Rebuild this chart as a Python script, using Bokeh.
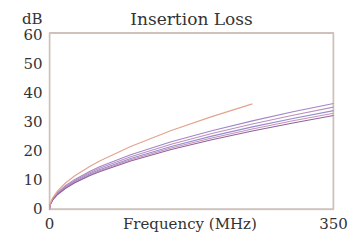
from bokeh.plotting import figure
from bokeh.models import Range1d, FixedTicker, Label
from bokeh.embed import file_html
from bokeh.resources import INLINE

# Frequencies (MHz)
freq = [0, 1, 4, 10, 20, 31.25, 50, 62.5, 100, 150, 200, 250, 300, 350]
freq_limit = [0, 1, 4, 10, 20, 31.25, 50, 62.5, 100, 150, 200, 250]

# Insertion loss (dB)
limit_db = [0, 1.97, 3.98, 6.37, 9.14, 11.56, 14.85, 16.76, 21.66, 27.14, 31.94, 36.30]
pair_a = [0, 1.81, 3.63, 5.77, 8.21, 10.31, 13.13, 14.73, 18.80, 23.25, 27.06, 30.46, 33.58, 36.47]
pair_b = [0, 1.75, 3.50, 5.57, 7.92, 9.95, 12.67, 14.21, 18.14, 22.44, 26.11, 29.39, 32.40, 35.19]
pair_c = [0, 1.69, 3.38, 5.38, 7.65, 9.61, 12.24, 13.73, 17.52, 21.67, 25.22, 28.39, 31.30, 33.99]
pair_d = [0, 1.64, 3.30, 5.24, 7.45, 9.36, 11.92, 13.37, 17.07, 21.11, 24.57, 27.66, 30.49, 33.11]
pair_e = [0, 1.60, 3.22, 5.11, 7.27, 9.13, 11.63, 13.05, 16.66, 20.60, 23.97, 26.99, 29.75, 32.31]

x_ticks = [0, 350]
y_ticks = [0, 10, 20, 30, 40, 50, 60]

title_text = "Insertion Loss"
x_label = "Frequency (MHz)"
y_label = "dB"

FONT = "DejaVu Serif"
TXT = "#333333"

X_MAX = 350
Y_MAX = 60.7          # top edge of the plotting box
Y_HEAD = 65.4         # row that holds the title and the unit
X_LABEL_POS = 173     # centre of the axis caption

p = figure(width=349, height=235, output_backend="svg", toolbar_location=None,
           x_range=Range1d(-1.2, 351.2), y_range=Range1d(-0.4, 70.2),
           min_border_left=48, min_border_right=15, min_border_top=5, min_border_bottom=22)

p.background_fill_color = "white"
p.border_fill_color = "white"
p.outline_line_color = None
p.grid.visible = False

for ax in (p.xaxis[0], p.yaxis[0]):
    ax.axis_line_color = None
    ax.major_tick_line_color = None
    ax.minor_tick_line_color = None
    ax.major_tick_out = 0
    ax.major_tick_in = 0
    ax.minor_tick_out = 0
    ax.minor_tick_in = 0
    ax.major_label_text_font = FONT
    ax.major_label_text_font_size = "15px"
    ax.major_label_text_color = TXT

p.xaxis.ticker = FixedTicker(ticks=x_ticks + [X_LABEL_POS])
p.xaxis.major_label_overrides = {X_LABEL_POS: x_label}
p.yaxis.ticker = FixedTicker(ticks=y_ticks + [Y_HEAD])
p.yaxis.major_label_overrides = {Y_HEAD: y_label}
p.xaxis.major_label_standoff = 4
p.yaxis.major_label_standoff = 6

# plotting box border
p.quad(left=[0], right=[X_MAX], bottom=[0], top=[Y_MAX],
       fill_color=None, line_color="#cdc1ba", line_width=2)

p.line(freq, pair_a, line_color="#a286c8", line_width=1.1)
p.line(freq, pair_b, line_color="#bc90bf", line_width=1.1)
p.line(freq, pair_c, line_color="#948ccf", line_width=1.1)
p.line(freq, pair_d, line_color="#c794b6", line_width=1.1)
p.line(freq, pair_e, line_color="#8e62a0", line_width=1.1)
p.line(freq_limit, limit_db, line_color="#e2a48e", line_width=1.2)

p.add_layout(Label(x=X_MAX / 2, y=Y_HEAD, text=title_text,
                   text_font=FONT, text_font_size="17px", text_color=TXT,
                   text_align="center", text_baseline="middle"))

open("out.html", "w").write(file_html(p, INLINE))
